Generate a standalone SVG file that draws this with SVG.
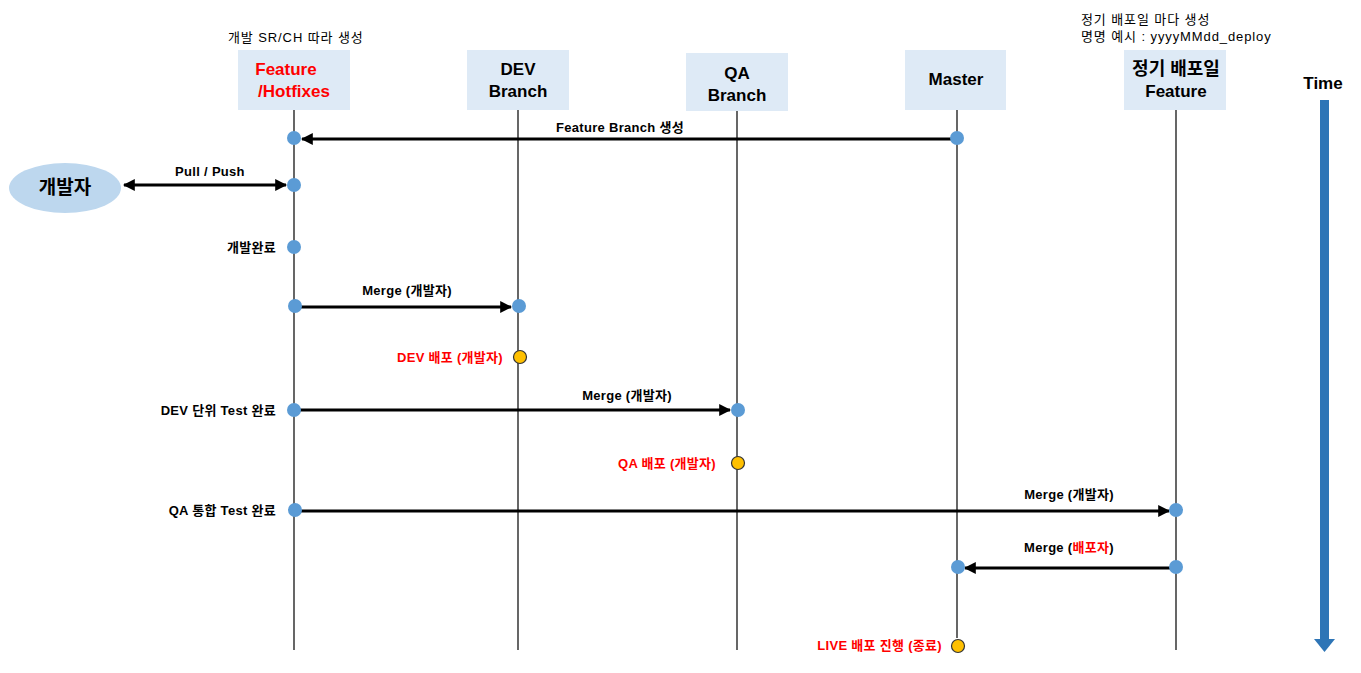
<svg xmlns="http://www.w3.org/2000/svg" width="1361" height="673" viewBox="0 0 1361 673">
<style>
text{font-family:"Liberation Sans","Noto Sans CJK KR",sans-serif;fill:#000}
.hdr{font-size:17px;font-weight:bold;text-anchor:middle}
.lbl{font-size:13px;font-weight:bold;letter-spacing:0.3px}
.note{font-size:13px;letter-spacing:0.9px}
.mid{text-anchor:middle}
.end{text-anchor:end}
.red{fill:#FF0000}
.box{fill:#DEEAF6}
.life{stroke:#000;stroke-width:1.2;fill:none}
.conn{stroke:#000;stroke-width:3;fill:none}
.dot{fill:#5B9BD5}
.ydot{fill:#FFC000;stroke:#333;stroke-width:1.2}
</style>
<defs>
<marker id="ah" viewBox="0 0 10 10" refX="9" refY="5" markerWidth="4" markerHeight="4" orient="auto-start-reverse" markerUnits="strokeWidth">
<path d="M0,0 L10,5 L0,10 z" fill="#000"/>
</marker>
</defs>
<rect width="1361" height="673" fill="#fff"/>

<text class="note" x="228" y="42">개발 SR/CH 따라 생성</text>
<text class="note" x="1081" y="24">정기 배포일 마다 생성</text>
<text class="note" x="1081" y="41">명명 예시 : yyyyMMdd_deploy</text>

<g id="lifelines">
<line class="life" x1="294" y1="110" x2="294" y2="650"/>
<line class="life" x1="518" y1="110" x2="518" y2="650"/>
<line class="life" x1="737" y1="111" x2="737" y2="650"/>
<line class="life" x1="957" y1="110" x2="957" y2="638"/>
<line class="life" x1="1176" y1="110" x2="1176" y2="650"/>
</g>

<g id="node-feature">
<rect class="box" x="238" y="50" width="112" height="60"/>
<text class="hdr red" x="286" y="75">Feature</text>
<text class="hdr red" x="294" y="97">/Hotfixes</text>
</g>
<g id="node-dev">
<rect class="box" x="467" y="50" width="102" height="60"/>
<text class="hdr" x="518" y="75">DEV</text>
<text class="hdr" x="518" y="97">Branch</text>
</g>
<g id="node-qa">
<rect class="box" x="686" y="53" width="102" height="58"/>
<text class="hdr" x="737" y="79">QA</text>
<text class="hdr" x="737" y="101">Branch</text>
</g>
<g id="node-master">
<rect class="box" x="905" y="50" width="101" height="60"/>
<text class="hdr" x="956" y="85">Master</text>
</g>
<g id="node-release">
<rect class="box" x="1124" y="50" width="102" height="60"/>
<text class="hdr" x="1176" y="75" style="font-size:18px">정기 배포일</text>
<text class="hdr" x="1176" y="97">Feature</text>
</g>
<g id="node-dev-person">
<ellipse cx="65" cy="188" rx="56" ry="25" fill="#BDD7EE"/>
<text class="hdr" x="65" y="194" style="font-size:19px">개발자</text>
</g>

<g id="connectors">
<line class="conn" x1="957" y1="139" x2="302" y2="139" marker-end="url(#ah)"/>
<line class="conn" x1="124" y1="185" x2="286" y2="185" marker-start="url(#ah)" marker-end="url(#ah)"/>
<line class="conn" x1="294" y1="307" x2="511" y2="307" marker-end="url(#ah)"/>
<line class="conn" x1="294" y1="410" x2="730" y2="410" marker-end="url(#ah)"/>
<line class="conn" x1="294" y1="511" x2="1169" y2="511" marker-end="url(#ah)"/>
<line class="conn" x1="1176" y1="568" x2="965" y2="568" marker-end="url(#ah)"/>
<text class="lbl mid" x="620" y="132">Feature Branch 생성</text>
<text class="lbl mid" x="210" y="176">Pull / Push</text>
<text class="lbl mid" x="407" y="295">Merge (개발자)</text>
<text class="lbl mid" x="627" y="400">Merge (개발자)</text>
<text class="lbl mid" x="1069" y="499">Merge (개발자)</text>
<text class="lbl mid" x="1069" y="552">Merge (<tspan class="red">배포자</tspan>)</text>
</g>

<g id="events">
<circle class="dot" cx="294" cy="138" r="7"/>
<circle class="dot" cx="957" cy="138" r="7"/>
<circle class="dot" cx="294" cy="185" r="7"/>
<circle class="dot" cx="294" cy="247" r="7"/>
<circle class="dot" cx="295" cy="306" r="7"/>
<circle class="dot" cx="519" cy="306" r="7"/>
<circle class="ydot" cx="520" cy="357" r="6.5"/>
<circle class="dot" cx="294" cy="410" r="7"/>
<circle class="dot" cx="738" cy="410" r="7"/>
<circle class="ydot" cx="738" cy="463" r="6.5"/>
<circle class="dot" cx="295" cy="510" r="7"/>
<circle class="dot" cx="1176" cy="510" r="7"/>
<circle class="dot" cx="1176" cy="567" r="7"/>
<circle class="dot" cx="958" cy="567" r="7"/>
<circle class="ydot" cx="958" cy="646" r="6.5"/>
<text class="lbl end" x="276" y="252">개발완료</text>
<text class="lbl end red" x="503" y="362">DEV 배포 (개발자)</text>
<text class="lbl end" x="276" y="415">DEV 단위 Test 완료</text>
<text class="lbl end red" x="716" y="468">QA 배포 (개발자)</text>
<text class="lbl end" x="276" y="515">QA 통합 Test 완료</text>
<text class="lbl end red" x="942" y="650">LIVE 배포 진행 (종료)</text>
</g>

<g id="time">
<text class="hdr" x="1323" y="89">Time</text>
<rect x="1320" y="100" width="9" height="540" fill="#2E75B6"/>
<path d="M1314,639 L1335,639 L1324.5,652 z" fill="#2E75B6"/>
</g>
</svg>
